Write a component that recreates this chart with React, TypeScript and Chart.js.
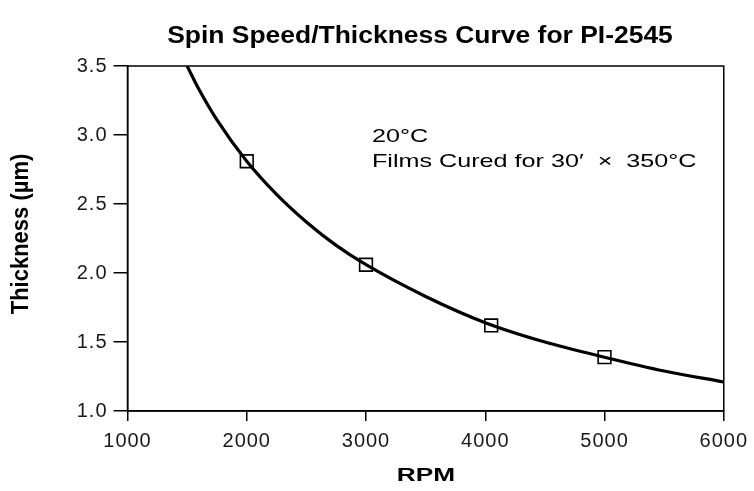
import { useEffect, useRef } from 'react';
import { Chart, registerables } from 'chart.js';

Chart.register(...registerables);

// ---- data ----
const rpmCurve = [1500, 1600, 1750, 2000, 2250, 2500, 2750, 3000, 3500, 4000, 4500, 5000, 5500, 6000];
const thicknessCurve = [3.5, 3.33, 3.11, 2.81, 2.57, 2.37, 2.2, 2.06, 1.83, 1.64, 1.5, 1.39, 1.29, 1.21];
const rpmMeasured = [2000, 3000, 4050, 5000];
const thicknessMeasured = [2.81, 2.06, 1.62, 1.39];
const xTicks = [1000, 2000, 3000, 4000, 5000, 6000];
const yTicks = [1.0, 1.5, 2.0, 2.5, 3.0, 3.5];
const titleText = 'Spin Speed/Thickness Curve for PI-2545';
const xAxisTitle = 'RPM';
const yAxisTitle = 'Thickness (µm)';
const noteLines = ['20°C', 'Films Cured for 30′  ×  350°C'];

const FONT = '"Liberation Sans", Arial, Helvetica, sans-serif';

function drawStretched(
  ctx: CanvasRenderingContext2D,
  text: string,
  x: number,
  y: number,
  font: string,
  sx: number,
  align: CanvasTextAlign,
  baseline: CanvasTextBaseline = 'alphabetic',
  rotate = 0
) {
  ctx.save();
  ctx.translate(x, y);
  ctx.scale(sx, 1);
  if (rotate) ctx.rotate(rotate);
  ctx.font = font;
  ctx.fillStyle = '#000';
  ctx.textAlign = align;
  ctx.textBaseline = baseline;
  ctx.fillText(text, 0, 0);
  ctx.restore();
}

const decorPlugin = {
  id: 'decor',
  beforeDraw(chart: any) {
    (chart.ctx as any).letterSpacing = '1px';
  },
  afterDraw(chart: any) {
    const ctx = chart.ctx as CanvasRenderingContext2D;
    (ctx as any).letterSpacing = '0px';
    const a = chart.chartArea;
    ctx.save();
    ctx.strokeStyle = '#000';
    ctx.lineWidth = 1.5;
    ctx.strokeRect(a.left, a.top, a.right - a.left, a.bottom - a.top);
    ctx.restore();

    drawStretched(ctx, titleText, 420, 43, `bold 23px ${FONT}`, 1.15, 'center');
    drawStretched(ctx, xAxisTitle, 426, 481, `bold 19px ${FONT}`, 1.38, 'center');
    drawStretched(ctx, yAxisTitle, 22, 234, `bold 22px ${FONT}`, 1.05, 'center', 'middle', -Math.PI / 2);
    drawStretched(ctx, noteLines[0], 372, 142, `18.5px ${FONT}`, 1.36, 'left');
    drawStretched(ctx, noteLines[1], 372, 167, `18.5px ${FONT}`, 1.36, 'left');
  },
};

export default function App() {
  const ref = useRef<HTMLCanvasElement>(null);
  useEffect(() => {
    document.body.style.margin = '0';
    const canvas = ref.current!;
    const chart = new Chart(canvas, {
      type: 'scatter',
      data: {
        datasets: [
          {
            label: 'curve',
            data: rpmCurve.map((x, i) => ({ x, y: thicknessCurve[i] })),
            showLine: true,
            borderColor: '#000',
            borderWidth: 3.2,
            pointRadius: 0,
            cubicInterpolationMode: 'monotone',
            fill: false,
          },
          {
            label: 'measured',
            data: rpmMeasured.map((x, i) => ({ x, y: thicknessMeasured[i] })),
            showLine: false,
            pointStyle: 'rect',
            pointRadius: 9,
            borderColor: '#000',
            borderWidth: 1.6,
            backgroundColor: 'rgba(0,0,0,0)',
          },
        ],
      },
      options: {
        responsive: false,
        animation: false,
        layout: { padding: { top: 66, right: 29, bottom: 0, left: 0 } },
        plugins: {
          legend: { display: false },
          tooltip: { enabled: false },
          title: { display: false },
        },
        scales: {
          x: {
            type: 'linear',
            min: 1000,
            max: 6000,
            afterBuildTicks: (s: any) => {
              s.ticks = xTicks.map((v) => ({ value: v }));
            },
            afterFit: (s: any) => {
              s.height = 80;
            },
            ticks: {
              color: '#1a1a1a',
              font: { family: FONT, size: 20 },
              padding: 8,
              maxRotation: 0,
              callback: (v: any) => String(v),
            },
            grid: { drawOnChartArea: false, drawTicks: true, tickLength: 10, color: '#000', lineWidth: 1.5 },
            border: { display: true, color: '#000', width: 1.5 },
          },
          y: {
            type: 'linear',
            min: 1.0,
            max: 3.5,
            afterBuildTicks: (s: any) => {
              s.ticks = yTicks.map((v) => ({ value: v }));
            },
            afterFit: (s: any) => {
              s.width = 127.5;
            },
            ticks: {
              color: '#1a1a1a',
              font: { family: FONT, size: 20 },
              padding: 6,
              callback: (v: any) => Number(v).toFixed(1),
            },
            grid: { drawOnChartArea: false, drawTicks: true, tickLength: 14, color: '#000', lineWidth: 1.5 },
            border: { display: true, color: '#000', width: 1.5 },
          },
        },
      },
      plugins: [decorPlugin],
    } as any);
    return () => chart.destroy();
  }, []);
  return (
    <canvas
      ref={ref}
      width={754}
      height={491}
      style={{ display: 'block', width: '754px', height: '491px' }}
    />
  );
}
